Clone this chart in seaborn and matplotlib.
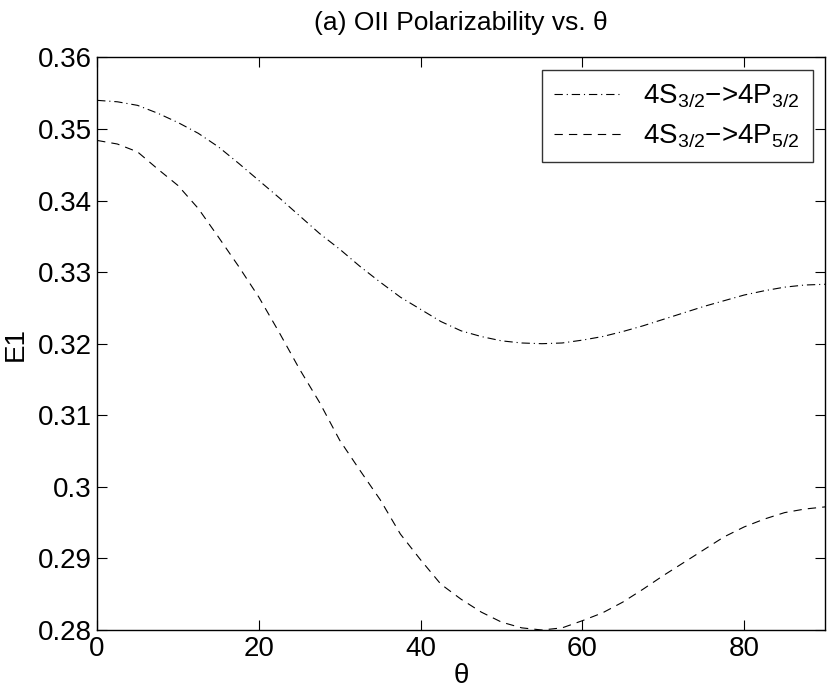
import numpy as np
import pandas as pd
import seaborn as sns
import matplotlib.pyplot as plt

#  DATA
theta = [0, 2.5, 5, 7.5, 10, 12.5, 15, 17.5, 20, 22.5, 25, 27.5, 30, 32.5, 35, 37.5,
         40, 42.5, 45, 47.5, 50, 52.5, 55, 57.5, 60, 62.5, 65, 67.5, 70, 72.5, 75,
         77.5, 80, 82.5, 85, 87.5, 90]
e1_p32 = [0.3540, 0.3538, 0.3533, 0.3522, 0.3509, 0.3494, 0.3475, 0.3452, 0.3428,
          0.3404, 0.3379, 0.3354, 0.3332, 0.3308, 0.3286, 0.3265, 0.3248, 0.3231,
          0.3218, 0.3210, 0.3204, 0.3201, 0.3200, 0.3201, 0.3205, 0.3210, 0.3217,
          0.3225, 0.3234, 0.3243, 0.3252, 0.3260, 0.3268, 0.3274, 0.3279, 0.3282,
          0.3283]
e1_p52 = [0.3484, 0.3479, 0.3468, 0.3444, 0.3421, 0.3389, 0.3349, 0.3308, 0.3265,
          0.3216, 0.3165, 0.3118, 0.3065, 0.3023, 0.2982, 0.2934, 0.2898, 0.2864,
          0.2843, 0.2825, 0.2811, 0.2803, 0.2800, 0.2803, 0.2813, 0.2824, 0.2839,
          0.2857, 0.2876, 0.2894, 0.2912, 0.2930, 0.2944, 0.2955, 0.2964, 0.2969,
          0.2972]
labels = ['4S$_{3/2}$\u2212>4P$_{3/2}$', '4S$_{3/2}$\u2212>4P$_{5/2}$']
xticks = [0, 20, 40, 60, 80]
yticks = [0.28, 0.29, 0.30, 0.31, 0.32, 0.33, 0.34, 0.35, 0.36]
ytick_labels = ['0.28', '0.29', '0.3', '0.31', '0.32', '0.33', '0.34', '0.35', '0.36']

sns.set_style('ticks')
plt.rcParams['font.family'] = ['Liberation Sans', 'DejaVu Sans']
plt.rcParams['mathtext.fontset'] = 'custom'
plt.rcParams['mathtext.rm'] = 'Liberation Sans'
plt.rcParams['mathtext.it'] = 'Liberation Sans'
for key in ['text.color', 'axes.labelcolor', 'xtick.color', 'ytick.color']:
    plt.rcParams[key] = 'black'

fig = plt.figure(figsize=(8.3, 7), dpi=100)
ax = fig.add_axes([0.117, 0.1, 0.877, 0.818])

sns.lineplot(x=theta, y=e1_p32, ax=ax, color='black', linewidth=0.8,
             linestyle=(0, (7.5, 3.5, 1, 3.5)), label=labels[0])
sns.lineplot(x=theta, y=e1_p52, ax=ax, color='black', linewidth=0.8,
             linestyle=(0, (7.5, 5.5)), label=labels[1])

ax.set_xlim(0, 90)
ax.set_ylim(0.28, 0.36)
ax.set_xticks(xticks)
ax.set_yticks(yticks)
ax.set_yticklabels(ytick_labels)
ax.tick_params(direction='in', length=7, width=0.8, labelsize=20,
               top=True, right=True, pad=4)
for s in ax.spines.values():
    s.set_linewidth(1.0)
    s.set_color('black')

ax.set_xlabel('\u03b8', fontsize=20, labelpad=1)
ax.set_ylabel('E1', fontsize=20, labelpad=6)
ax.set_title('(a) OII Polarizability vs. \u03b8', fontsize=19, pad=20)

leg = ax.legend(loc='upper right', fontsize=20, frameon=True, fancybox=False,
                handlelength=2.4, borderaxespad=0.45, borderpad=0.45,
                labelspacing=0.45, handletextpad=0.8)
leg.get_frame().set_edgecolor('black')
leg.get_frame().set_linewidth(1.0)

fig.savefig('out.png', dpi=100)
